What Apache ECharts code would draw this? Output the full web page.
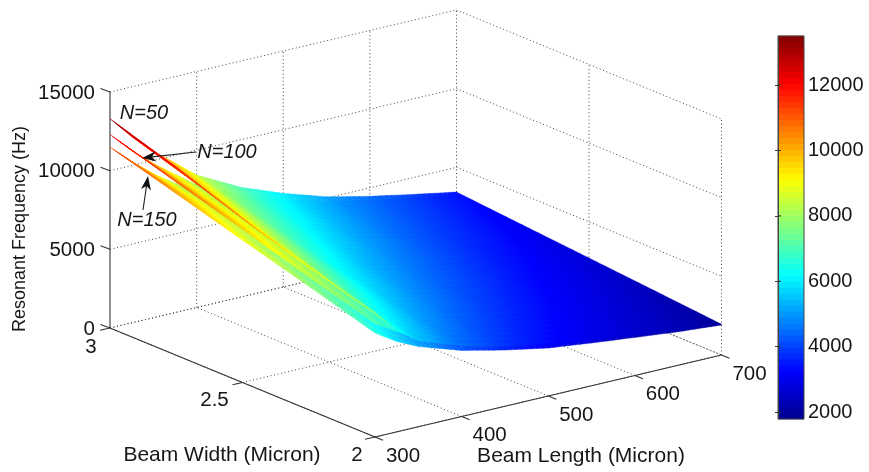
<!DOCTYPE html>
<html><head><meta charset="utf-8">
<style>html,body{margin:0;padding:0;background:#fff}#c{width:869px;height:472px}</style>
<script src="https://cdn.jsdelivr.net/npm/echarts@6/dist/echarts.min.js"></script>
</head><body><div id="c"></div>
<script>
// ---- data ----
var beamLength = [300,325,350,400,450,500,550,600,650,700];
var beamWidth  = [3,2.75,2.5,2.25,2];
var freqN50 = [
 [13300,11850,10600,8420,7000,5950,5080,4460,3930,3430],
 [11950,10500, 9300,7350,6150,5250,4550,4000,3530,3060],
 [10400, 9100, 8000,6300,5300,4600,4050,3550,3130,2700],
 [ 9080, 7800, 6750,5400,4600,4000,3520,3100,2720,2330],
 [ 7880, 6450, 5500,4500,3850,3350,2980,2640,2300,1950]];
var freqN100 = [
 [12300,10950, 9800,7800,6500,5550,4750,4200,3720,3330],
 [11000, 9850, 8850,7100,5800,4900,4250,3760,3350,2980],
 [ 9730, 8800, 8050,6600,5300,4400,3800,3350,2980,2630],
 [ 8450, 7650, 7000,5800,4700,3850,3300,2930,2590,2280],
 [ 7200, 6400, 5700,4500,3700,3200,2850,2530,2220,1930]];
var freqN150 = [
 [11500,10250, 9150,7300,6100,5200,4480,3980,3550,3200],
 [10270, 9300, 8400,6800,5600,4700,4000,3560,3200,2900],
 [ 9050, 8150, 7500,6200,5000,4100,3550,3180,2850,2560],
 [ 7850, 7100, 6500,5200,4200,3550,3100,2770,2480,2230],
 [ 6610, 5750, 5100,4200,3570,3050,2720,2420,2130,1907]];
var lengthTicks = [300,400,500,600,700];
var widthTicks  = [3,2.5,2];
var widthLabels = ['3','2.5','2'];
var freqTicks   = [0,5000,10000,15000];
var colorTicks  = [2000,4000,6000,8000,10000,12000];
var colorRange  = [1790,13500];
var jetStops    = ['#00008f','#0000ff','#00ffff','#ffff00','#ff0000','#800000'];
var jetPos      = [0,0.125,0.375,0.625,0.875,1];
var notes = [
 {text:'N=50',  at:[144,113]},
 {text:'N=100', at:[227,152]},
 {text:'N=150', at:[147,220]}];
var arrows = [
 {from:[196,152], to:[142,158]},
 {from:[143,210], to:[148,176]}];

// ---- oblique 3D view: screen position of (length, width, frequency) ----
var ORIGIN=[110,328], LV=[346.5,-82], WV=[265,109], ZV=[0,-236];
function proj(l,w,f){
  var t=(l-300)/400,u=3-w,v=f/15000;
  return [ORIGIN[0]+t*LV[0]+u*WV[0]+v*ZV[0], ORIGIN[1]+t*LV[1]+u*WV[1]+v*ZV[1]];
}
function jet(f){
  var p=(f-colorRange[0])/(colorRange[1]-colorRange[0]);
  p=Math.max(0,Math.min(1,p));
  for(var i=1;i<jetPos.length;i++){
    if(p<=jetPos[i]) return echarts.color.lerp((p-jetPos[i-1])/(jetPos[i]-jetPos[i-1]),[jetStops[i-1],jetStops[i]]);
  }
  return jetStops[5];
}
var FONT='"Liberation Sans",Arial,sans-serif', INK='#161616';
var layers=[freqN150,freqN100,freqN50];

// surface cells, back to front, lowest layer first
var cells=[];
layers.forEach(function(tb,k){
  for(var r=0;r<beamWidth.length-1;r++) for(var c=beamLength.length-2;c>=0;c--) cells.push([k,r,c]);
});
var SUB=8;
function renderCell(params,api){
  var k=api.value(0),r=api.value(1),c=api.value(2),tb=layers[k],kids=[];
  function zAt(a,b){
    return (1-a)*(1-b)*tb[r][c]+a*(1-b)*tb[r][c+1]+(1-a)*b*tb[r+1][c]+a*b*tb[r+1][c+1];
  }
  function pt(a,b){
    var l=beamLength[c]+a*(beamLength[c+1]-beamLength[c]);
    var w=beamWidth[r]+b*(beamWidth[r+1]-beamWidth[r]);
    return api.coord(proj(l,w,zAt(a,b)));
  }
  for(var j=0;j<SUB;j++) for(var i=SUB-1;i>=0;i--){
    var a0=i/SUB,a1=(i+1)/SUB,b0=j/SUB,b1=(j+1)/SUB;
    var col=jet(zAt((a0+a1)/2,(b0+b1)/2));
    kids.push({type:'polygon',shape:{points:[pt(a0,b0),pt(a1,b0),pt(a1,b1),pt(a0,b1)]},
      style:{fill:col,stroke:col,lineWidth:0.4},silent:true});
  }
  return {type:'group',children:kids};
}

// box lines: [kind, from, to]
var boxLines=[];
function seg(kind,a,b){boxLines.push({kind:kind,a:a,b:b});}
var L0=300,L1=700,W0=2,W1=3,Ztop=15000;
freqTicks.forEach(function(f){
  seg('dot',[L0,W1,f],[L1,W1,f]);
  seg('dot',[L1,W1,f],[L1,W0,f]);
});
lengthTicks.forEach(function(l){
  if(l>L0) seg('dot',[l,W1,0],[l,W1,Ztop]);
  seg('dot',[l,W0,0],[l,W1,0]);
});
widthTicks.forEach(function(w){
  if(w<W1) seg('dot',[L1,w,0],[L1,w,Ztop]);
  seg('dot',[L0,w,0],[L1,w,0]);
});
seg('solid',[L0,W1,0],[L0,W1,Ztop]);
seg('solid',[L0,W1,0],[L0,W0,0]);
seg('solid',[L0,W0,0],[L1,W0,0]);

function lineEl(p,q,dot,color){
  return {type:'line',shape:{x1:p[0],y1:p[1],x2:q[0],y2:q[1]},silent:true,
    style:dot?{stroke:color||'#444',lineWidth:1,lineDash:[1,2.6]}:{stroke:color||'#333',lineWidth:1.1}};
}
function renderBox(params,api){
  var s=boxLines[api.value(0)];
  return lineEl(api.coord(proj.apply(null,s.a)),api.coord(proj.apply(null,s.b)),s.kind==='dot');
}
function textEl(txt,p,opt){
  opt=opt||{};
  return {type:'text',x:p[0],y:p[1],rotation:opt.rot||0,silent:true,
    style:{text:txt,fill:INK,font:(opt.italic?'italic ':'')+(opt.size||20.5)+'px '+FONT,
      textAlign:opt.align||'center',textVerticalAlign:'middle'}};
}
function renderAxisMarks(params,api){
  var kids=[];
  function add(a,dir,label,lp,al){
    var p=api.coord(a);
    kids.push(lineEl(p,[p[0]+dir[0],p[1]+dir[1]],false,'#333'));
    kids.push(textEl(label,api.coord(lp),{align:al||'center'}));
  }
  freqTicks.forEach(function(f){
    var a=proj(L0,W1,f);
    add(a,[-9.5,-3.5],String(f),[95,a[1]+1],'right');
  });
  widthTicks.forEach(function(w,i){
    var a=proj(L0,w,0);
    add(a,[-10,2.3],widthLabels[i],[a[0]-19-(i===1?9:0)+(i===2?1:0),a[1]+(i===0?19:18)]);
  });
  lengthTicks.forEach(function(l){
    var a=proj(l,W0,0);
    add(a,[8,3.3],String(l),[a[0]+28,a[1]+19]);
  });
  kids.push(textEl('Beam Width (Micron)',api.coord([222,455]),{size:21}));
  kids.push(textEl('Beam Length (Micron)',api.coord([581,456]),{size:21}));
  kids.push(textEl('Resonant Frequency (Hz)',api.coord([20,229]),{size:18,rot:Math.PI/2}));
  notes.forEach(function(n){kids.push(textEl(n.text,api.coord(n.at),{italic:true,size:20}));});
  arrows.forEach(function(ar){
    var p=api.coord(ar.from),q=api.coord(ar.to),dx=q[0]-p[0],dy=q[1]-p[1],d=Math.sqrt(dx*dx+dy*dy);
    dx/=d;dy/=d;
    var h=14,w=5;
    kids.push(lineEl(p,[q[0]-dx*6,q[1]-dy*6],false,'#222'));
    kids.push({type:'polygon',silent:true,style:{fill:'#111'},shape:{points:[q,
      [q[0]-dx*h-dy*w,q[1]-dy*h+dx*w],[q[0]-dx*(h-4),q[1]-dy*(h-4)],[q[0]-dx*h+dy*w,q[1]-dy*h-dx*w]]}});
  });
  return {type:'group',children:kids};
}

// colour bar: 64 bands
var bands=[];
for(var b=0;b<64;b++){
  var lo=colorRange[0]+(colorRange[1]-colorRange[0])*b/64, hi=colorRange[0]+(colorRange[1]-colorRange[0])*(b+1)/64;
  bands.push([lo,hi]);
}
function renderBand(params,api){
  var p=api.coord([0,api.value(0)]),q=api.coord([1,api.value(1)]);
  var x=p[0],y=q[1],w=q[0]-p[0],h=p[1]-q[1];
  return {type:'rect',silent:true,shape:{x:x,y:y-0.3,width:w,height:h+0.6},style:{fill:jet((api.value(0)+api.value(1))/2)}};
}
function renderBarTick(params,api){
  var p=api.coord([0,api.value(0)]);
  return lineEl(p,[p[0]+3,p[1]],false,'#333');
}

var chart=echarts.init(document.getElementById('c'),null,{renderer:'canvas'});
chart.setOption({
  animation:false,
  backgroundColor:'#ffffff',
  tooltip:{show:false},
  grid:[
    {left:0,top:0,width:869,height:472,show:false},
    {left:778,top:36,width:26,height:383,show:true,borderColor:'#444',borderWidth:1,backgroundColor:'transparent',z:5}
  ],
  xAxis:[
    {gridIndex:0,type:'value',min:0,max:869,show:false},
    {gridIndex:1,type:'value',min:0,max:1,show:false}
  ],
  yAxis:[
    {gridIndex:0,type:'value',min:0,max:472,inverse:true,show:false},
    {gridIndex:1,type:'value',min:colorRange[0],max:colorRange[1],position:'right',z:6,
     splitLine:{show:false},
     axisLine:{show:true,lineStyle:{color:'#444',width:1}},
     axisTick:{show:true,inside:true,length:3,lineStyle:{color:'#333'},customValues:colorTicks},
     axisLabel:{show:true,color:INK,fontSize:20,fontFamily:'Liberation Sans',margin:4,customValues:colorTicks,
       formatter:function(v){return String(v);}}}
  ],
  series:[
    {type:'custom',xAxisIndex:0,yAxisIndex:0,z:1,silent:true,clip:false,renderItem:renderBox,
     data:boxLines.map(function(s,i){return [i];}),encode:{x:[],y:[]}},
    {type:'custom',xAxisIndex:0,yAxisIndex:0,z:2,silent:true,clip:false,renderItem:renderCell,
     data:cells,progressive:0,encode:{x:[],y:[]}},
    {type:'custom',xAxisIndex:0,yAxisIndex:0,z:3,silent:true,clip:false,renderItem:renderAxisMarks,
     data:[[0]],encode:{x:[],y:[]}},
    {type:'custom',xAxisIndex:1,yAxisIndex:1,z:2,silent:true,clip:false,renderItem:renderBand,
     data:bands,progressive:0,encode:{x:[],y:[0,1]}},
    {type:'custom',xAxisIndex:1,yAxisIndex:1,z:7,silent:true,clip:false,renderItem:renderBarTick,
     data:colorTicks.map(function(v){return [v];}),encode:{x:[],y:[0]}}
  ]
});
</script></body></html>
